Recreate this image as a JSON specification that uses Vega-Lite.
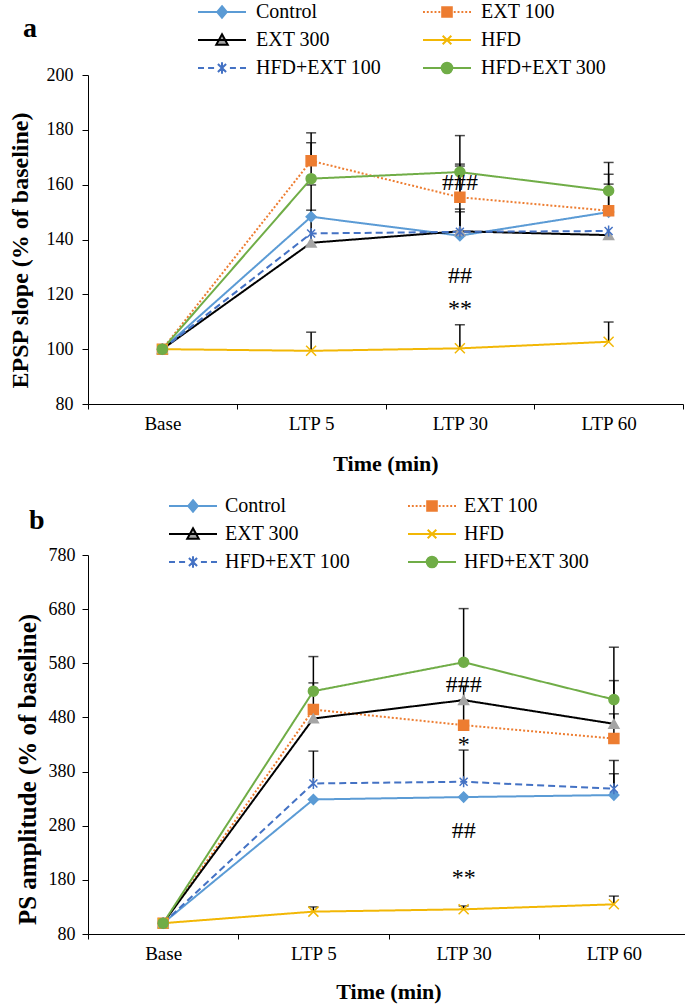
{
  "$schema": "https://vega.github.io/schema/vega-lite/v6.json",
  "padding": {"left": 8, "top": 2, "right": 0, "bottom": 2},
  "background": "white",
  "columns": 1,
  "align": "none",
  "spacing": 22,
  "resolve": {"scale": {"color": "independent", "shape": "independent", "fill": "independent", "stroke": "independent", "strokeDash": "independent"}, "legend": {"color": "independent"}},
  "config": {
    "view": {"stroke": null},
    "font": "Liberation Serif",
    "axis": {"domainColor": "black", "tickColor": "black", "labelColor": "black", "titleColor": "black", "grid": false, "labelFont": "Liberation Serif", "titleFont": "Liberation Serif", "titleFontWeight": "bold", "domainWidth": 1, "tickWidth": 1}
  },
  "datasets": {
    "a": [
      {"time": "Base", "group": "Control", "value": 100, "upper": null},
      {"time": "Base", "group": "EXT 100", "value": 100, "upper": null},
      {"time": "Base", "group": "EXT 300", "value": 100, "upper": null},
      {"time": "Base", "group": "HFD", "value": 100, "upper": null},
      {"time": "Base", "group": "HFD+EXT 100", "value": 100, "upper": null},
      {"time": "Base", "group": "HFD+EXT 300", "value": 100, "upper": null},
      {"time": "LTP 5", "group": "Control", "value": 148.3, "upper": 159.9},
      {"time": "LTP 5", "group": "EXT 100", "value": 168.7, "upper": 178.9},
      {"time": "LTP 5", "group": "EXT 300", "value": 138.8, "upper": 150.7},
      {"time": "LTP 5", "group": "HFD", "value": 99.4, "upper": 106.2},
      {"time": "LTP 5", "group": "HFD+EXT 100", "value": 142.2, "upper": null},
      {"time": "LTP 5", "group": "HFD+EXT 300", "value": 162.2, "upper": 175.3},
      {"time": "LTP 30", "group": "Control", "value": 141.4, "upper": 151.1},
      {"time": "LTP 30", "group": "EXT 100", "value": 155.4, "upper": 167.5},
      {"time": "LTP 30", "group": "EXT 300", "value": 143.0, "upper": 150.1},
      {"time": "LTP 30", "group": "HFD", "value": 100.3, "upper": 108.9},
      {"time": "LTP 30", "group": "HFD+EXT 100", "value": 142.8, "upper": 166.8},
      {"time": "LTP 30", "group": "HFD+EXT 300", "value": 164.6, "upper": 177.9},
      {"time": "LTP 60", "group": "Control", "value": 150.0, "upper": 160.2},
      {"time": "LTP 60", "group": "EXT 100", "value": 150.5, "upper": 163.8},
      {"time": "LTP 60", "group": "EXT 300", "value": 141.6, "upper": null},
      {"time": "LTP 60", "group": "HFD", "value": 102.7, "upper": 109.9},
      {"time": "LTP 60", "group": "HFD+EXT 100", "value": 143.1, "upper": null},
      {"time": "LTP 60", "group": "HFD+EXT 300", "value": 157.8, "upper": 168.1}
    ],
    "b": [
      {"time": "Base", "group": "Control", "value": 100, "upper": null},
      {"time": "Base", "group": "EXT 100", "value": 100, "upper": null},
      {"time": "Base", "group": "EXT 300", "value": 100, "upper": null},
      {"time": "Base", "group": "HFD", "value": 100, "upper": null},
      {"time": "Base", "group": "HFD+EXT 100", "value": 100, "upper": null},
      {"time": "Base", "group": "HFD+EXT 300", "value": 100, "upper": null},
      {"time": "LTP 5", "group": "Control", "value": 328.5, "upper": null},
      {"time": "LTP 5", "group": "EXT 100", "value": 494.6, "upper": 543.8},
      {"time": "LTP 5", "group": "EXT 300", "value": 478, "upper": null},
      {"time": "LTP 5", "group": "HFD", "value": 121.3, "upper": 130},
      {"time": "LTP 5", "group": "HFD+EXT 100", "value": 358, "upper": 417.8},
      {"time": "LTP 5", "group": "HFD+EXT 300", "value": 528.5, "upper": 592.4},
      {"time": "LTP 30", "group": "Control", "value": 332.9, "upper": null},
      {"time": "LTP 30", "group": "EXT 100", "value": 465.7, "upper": 512},
      {"time": "LTP 30", "group": "EXT 300", "value": 511.9, "upper": 538},
      {"time": "LTP 30", "group": "HFD", "value": 125.6, "upper": 131.8},
      {"time": "LTP 30", "group": "HFD+EXT 100", "value": 361.2, "upper": 419.7},
      {"time": "LTP 30", "group": "HFD+EXT 300", "value": 582, "upper": 681},
      {"time": "LTP 60", "group": "Control", "value": 336.6, "upper": 376},
      {"time": "LTP 60", "group": "EXT 100", "value": 441, "upper": 486.6},
      {"time": "LTP 60", "group": "EXT 300", "value": 468.2, "upper": 548},
      {"time": "LTP 60", "group": "HFD", "value": 134.8, "upper": 150},
      {"time": "LTP 60", "group": "HFD+EXT 100", "value": 348.3, "upper": 400.5},
      {"time": "LTP 60", "group": "HFD+EXT 300", "value": 513, "upper": 609.7}
    ],
    "annA": [
      {"time": "LTP 30", "value": 160.6, "label": "###"},
      {"time": "LTP 30", "value": 126.6, "label": "##"},
      {"time": "LTP 30", "value": 114.5, "label": "**"}
    ],
    "annB": [
      {"time": "LTP 30", "value": 540, "label": "###"},
      {"time": "LTP 30", "value": 430, "label": "*"},
      {"time": "LTP 30", "value": 271, "label": "##"},
      {"time": "LTP 30", "value": 183, "label": "**"}
    ]
  },
  "concat": [
    {
      "width": 595,
      "height": 329,
      "title": {"text": "a", "anchor": "start", "frame": "group", "dx": -65, "fontSize": 28, "fontWeight": "bold", "font": "Liberation Serif", "color": "black", "offset": -41},
      "data": {"name": "a"},
      "encoding": {
        "x": {"field": "time", "type": "nominal", "scale": {"type": "band", "domain": ["Base", "LTP 5", "LTP 30", "LTP 60"], "paddingInner": 0, "paddingOuter": 0},
          "axis": {"title": "Time (min)", "labelAngle": 0, "labelFontSize": 19, "titleFontSize": 22, "tickBand": "extent", "tickSize": 5, "labelPadding": 5, "titleY": 59, "titleBaseline": "middle"}},
        "y": {"field": "value", "type": "quantitative", "scale": {"domain": [80, 200], "nice": false, "zero": false},
          "axis": {"title": "EPSP slope (% of baseline)", "values": [80, 100, 120, 140, 160, 180, 200], "labelFontSize": 18, "titleFontSize": 24, "tickSize": 6, "labelPadding": 9, "titleX": -68, "titleY": 175, "titleBaseline": "middle"}}
      },
      "layer": [
        {"transform": [{"filter": "datum.upper != null"}], "mark": {"type": "rule", "color": "black", "strokeWidth": 1.5}, "encoding": {"y2": {"field": "upper"}}},
        {"transform": [{"filter": "datum.upper != null"}], "mark": {"type": "tick", "color": "black", "size": 10, "thickness": 1.5, "orient": "horizontal"}, "encoding": {"y": {"field": "upper", "type": "quantitative"}}},
        {"mark": {"type": "line", "strokeWidth": 2},
          "encoding": {
            "color": {"field": "group", "type": "nominal", "scale": {"domain": ["Control", "EXT 100", "EXT 300", "HFD", "HFD+EXT 100", "HFD+EXT 300"], "range": ["#5B9BD5", "#ED7D31", "#000000", "#F2B705", "#4472C4", "#70AD47"]},
              "legend": {"orient": "none", "direction": "horizontal", "legendX": 109, "legendY": -73, "columns": 2, "columnPadding": 40, "rowPadding": 8, "clipHeight": 20, "symbolSize": 2304, "symbolStrokeWidth": 2, "labelOffset": 9, "labelFont": "Liberation Serif", "labelFontSize": 20, "labelColor": "black", "labelLimit": 300, "title": null, "padding": 0, "symbolOffset": 0,
                "encode": {"symbols": {"update": {
                  "shape": {"signal": "datum.value === 'Control' ? 'M-1,0H1M0,-0.24L0.2,0L0,0.24L-0.2,0Z' : datum.value === 'EXT 100' ? 'M-1,0H-0.92M-0.84,0H-0.76M-0.68,0H-0.6M-0.52,0H-0.44M-0.36,0H-0.28M0.28,0H0.36M0.44,0H0.52M0.6,0H0.68M0.76,0H0.84M0.92,0H1M-0.2,-0.2H0.2V0.2H-0.2Z' : datum.value === 'EXT 300' ? 'M-1,0H1M0,-0.24L0.24,0.2H-0.24Z' : datum.value === 'HFD' ? 'M-1,0H1M-0.18,-0.18L0.18,0.18M-0.18,0.18L0.18,-0.18' : datum.value === 'HFD+EXT 100' ? 'M-1,0H-0.75M-0.58,0H-0.33M0.33,0H0.58M0.75,0H1M-0.17,-0.17L0.17,0.17M-0.17,0.17L0.17,-0.17M0,-0.24V0.24' : 'M-1,0H1M-0.22,0A0.22,0.22 0 1,0 0.22,0A0.22,0.22 0 1,0 -0.22,0Z'"},
                  "fill": {"signal": "datum.value === 'Control' ? '#5B9BD5' : datum.value === 'EXT 100' ? '#ED7D31' : datum.value === 'EXT 300' ? '#A5A5A5' : datum.value === 'HFD' ? '#F2B705' : datum.value === 'HFD+EXT 100' ? '#4472C4' : '#70AD47'"},
                  "stroke": {"signal": "datum.value === 'Control' ? '#5B9BD5' : datum.value === 'EXT 100' ? '#ED7D31' : datum.value === 'EXT 300' ? '#000000' : datum.value === 'HFD' ? '#F2B705' : datum.value === 'HFD+EXT 100' ? '#4472C4' : '#70AD47'"},
                  "strokeWidth": {"value": 2},
                  "opacity": {"value": 1}
                }}}}},
            "strokeDash": {"field": "group", "type": "nominal", "scale": {"domain": ["HFD+EXT 300", "HFD+EXT 100", "HFD", "EXT 300", "EXT 100", "Control"], "range": [[1, 0], [7, 4], [1, 0], [1, 0], [2, 2], [1, 0]]}, "legend": null}
          }},
        {"mark": {"type": "point", "filled": true, "size": 100, "strokeWidth": 1.5, "opacity": 1},
          "encoding": {
            "shape": {"field": "group", "type": "nominal", "scale": {"domain": ["HFD+EXT 300", "HFD+EXT 100", "HFD", "EXT 300", "EXT 100", "Control"], "range": ["circle", "M-0.8,-0.8L0.8,0.8M-0.8,0.8L0.8,-0.8M0,-1.1V1.1", "M-1,-1L1,1M-1,1L1,-1", "triangle-up", "square", "diamond"]}, "legend": null},
            "fill": {"field": "group", "type": "nominal", "scale": {"domain": ["HFD+EXT 300", "HFD+EXT 100", "HFD", "EXT 300", "EXT 100", "Control"], "range": ["#70AD47", "#4472C4", "#F2B705", "#A5A5A5", "#ED7D31", "#5B9BD5"]}, "legend": null},
            "stroke": {"field": "group", "type": "nominal", "scale": {"domain": ["HFD+EXT 300", "HFD+EXT 100", "HFD", "EXT 300", "EXT 100", "Control"], "range": ["#70AD47", "#4472C4", "#F2B705", "#A5A5A5", "#ED7D31", "#5B9BD5"]}, "legend": null}
          }},
        {"data": {"name": "annA"}, "mark": {"type": "text", "font": "Liberation Serif", "fontSize": 24, "color": "black", "baseline": "middle"},
          "encoding": {"text": {"field": "label"}}}
      ]
    },
    {
      "width": 601,
      "height": 379,
      "title": {"text": "b", "anchor": "start", "frame": "group", "dx": -59, "fontSize": 28, "fontWeight": "bold", "font": "Liberation Serif", "color": "black", "offset": -39},
      "data": {"name": "b"},
      "encoding": {
        "x": {"field": "time", "type": "nominal", "scale": {"type": "band", "domain": ["Base", "LTP 5", "LTP 30", "LTP 60"], "paddingInner": 0, "paddingOuter": 0},
          "axis": {"title": "Time (min)", "labelAngle": 0, "labelFontSize": 19, "titleFontSize": 22, "tickBand": "extent", "tickSize": 5, "labelPadding": 5, "titleY": 57, "titleBaseline": "middle"}},
        "y": {"field": "value", "type": "quantitative", "scale": {"domain": [80, 780], "nice": false, "zero": false},
          "axis": {"title": "PS amplitude (% of baseline)", "values": [80, 180, 280, 380, 480, 580, 680, 780], "labelFontSize": 18, "titleFontSize": 25, "tickSize": 6, "labelPadding": 7, "titleX": -61, "titleY": 214, "titleBaseline": "middle"}}
      },
      "layer": [
        {"transform": [{"filter": "datum.upper != null"}], "mark": {"type": "rule", "color": "black", "strokeWidth": 1.5}, "encoding": {"y2": {"field": "upper"}}},
        {"transform": [{"filter": "datum.upper != null"}], "mark": {"type": "tick", "color": "black", "size": 10, "thickness": 1.5, "orient": "horizontal"}, "encoding": {"y": {"field": "upper", "type": "quantitative"}}},
        {"mark": {"type": "line", "strokeWidth": 2},
          "encoding": {
            "color": {"field": "group", "type": "nominal", "scale": {"domain": ["Control", "EXT 100", "EXT 300", "HFD", "HFD+EXT 100", "HFD+EXT 300"], "range": ["#5B9BD5", "#ED7D31", "#000000", "#F2B705", "#4472C4", "#70AD47"]},
              "legend": {"orient": "none", "direction": "horizontal", "legendX": 80, "legendY": -59, "columns": 2, "columnPadding": 56, "rowPadding": 8, "clipHeight": 20, "symbolSize": 2304, "symbolStrokeWidth": 2, "labelOffset": 7, "labelFont": "Liberation Serif", "labelFontSize": 20, "labelColor": "black", "labelLimit": 300, "title": null, "padding": 0, "symbolOffset": 0,
                "encode": {"symbols": {"update": {
                  "shape": {"signal": "datum.value === 'Control' ? 'M-1,0H1M0,-0.24L0.2,0L0,0.24L-0.2,0Z' : datum.value === 'EXT 100' ? 'M-1,0H-0.92M-0.84,0H-0.76M-0.68,0H-0.6M-0.52,0H-0.44M-0.36,0H-0.28M0.28,0H0.36M0.44,0H0.52M0.6,0H0.68M0.76,0H0.84M0.92,0H1M-0.2,-0.2H0.2V0.2H-0.2Z' : datum.value === 'EXT 300' ? 'M-1,0H1M0,-0.24L0.24,0.2H-0.24Z' : datum.value === 'HFD' ? 'M-1,0H1M-0.18,-0.18L0.18,0.18M-0.18,0.18L0.18,-0.18' : datum.value === 'HFD+EXT 100' ? 'M-1,0H-0.75M-0.58,0H-0.33M0.33,0H0.58M0.75,0H1M-0.17,-0.17L0.17,0.17M-0.17,0.17L0.17,-0.17M0,-0.24V0.24' : 'M-1,0H1M-0.22,0A0.22,0.22 0 1,0 0.22,0A0.22,0.22 0 1,0 -0.22,0Z'"},
                  "fill": {"signal": "datum.value === 'Control' ? '#5B9BD5' : datum.value === 'EXT 100' ? '#ED7D31' : datum.value === 'EXT 300' ? '#A5A5A5' : datum.value === 'HFD' ? '#F2B705' : datum.value === 'HFD+EXT 100' ? '#4472C4' : '#70AD47'"},
                  "stroke": {"signal": "datum.value === 'Control' ? '#5B9BD5' : datum.value === 'EXT 100' ? '#ED7D31' : datum.value === 'EXT 300' ? '#000000' : datum.value === 'HFD' ? '#F2B705' : datum.value === 'HFD+EXT 100' ? '#4472C4' : '#70AD47'"},
                  "strokeWidth": {"value": 2},
                  "opacity": {"value": 1}
                }}}}},
            "strokeDash": {"field": "group", "type": "nominal", "scale": {"domain": ["HFD+EXT 300", "HFD+EXT 100", "HFD", "EXT 300", "EXT 100", "Control"], "range": [[1, 0], [7, 4], [1, 0], [1, 0], [2, 2], [1, 0]]}, "legend": null}
          }},
        {"mark": {"type": "point", "filled": true, "size": 100, "strokeWidth": 1.5, "opacity": 1},
          "encoding": {
            "shape": {"field": "group", "type": "nominal", "scale": {"domain": ["HFD+EXT 300", "HFD+EXT 100", "HFD", "EXT 300", "EXT 100", "Control"], "range": ["circle", "M-0.8,-0.8L0.8,0.8M-0.8,0.8L0.8,-0.8M0,-1.1V1.1", "M-1,-1L1,1M-1,1L1,-1", "triangle-up", "square", "diamond"]}, "legend": null},
            "fill": {"field": "group", "type": "nominal", "scale": {"domain": ["HFD+EXT 300", "HFD+EXT 100", "HFD", "EXT 300", "EXT 100", "Control"], "range": ["#70AD47", "#4472C4", "#F2B705", "#A5A5A5", "#ED7D31", "#5B9BD5"]}, "legend": null},
            "stroke": {"field": "group", "type": "nominal", "scale": {"domain": ["HFD+EXT 300", "HFD+EXT 100", "HFD", "EXT 300", "EXT 100", "Control"], "range": ["#70AD47", "#4472C4", "#F2B705", "#A5A5A5", "#ED7D31", "#5B9BD5"]}, "legend": null}
          }},
        {"data": {"name": "annB"}, "mark": {"type": "text", "font": "Liberation Serif", "fontSize": 24, "color": "black", "baseline": "middle"},
          "encoding": {"text": {"field": "label"}}}
      ]
    }
  ]
}
